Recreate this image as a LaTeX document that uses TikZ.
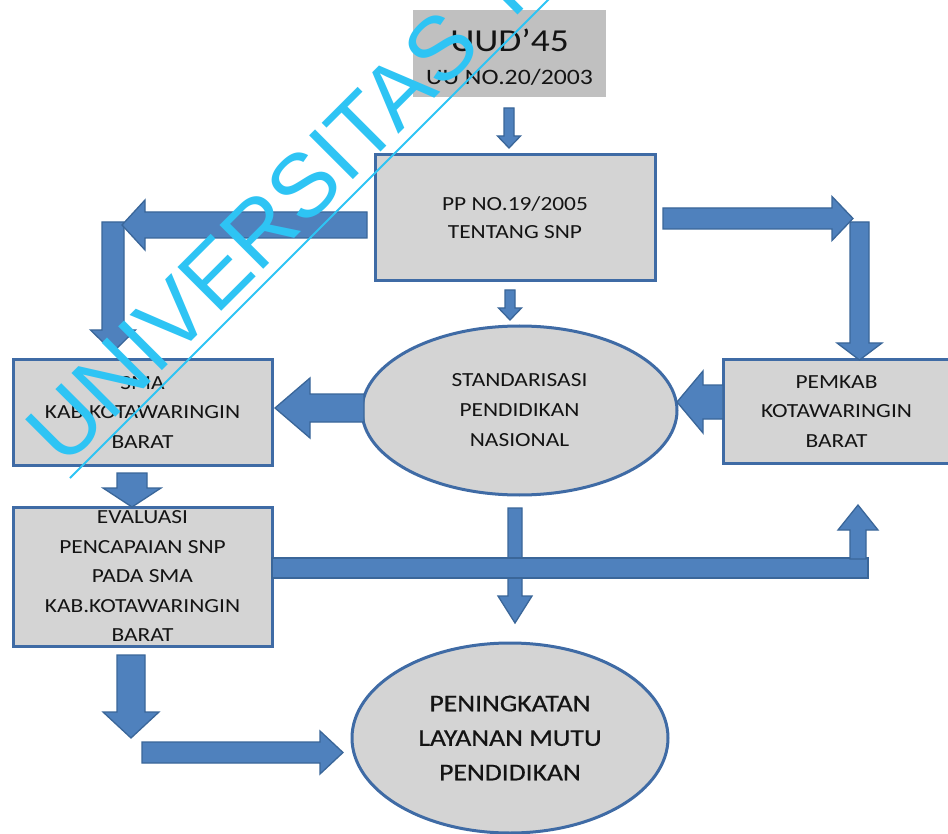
\documentclass[tikz,border=0pt]{standalone}
\usepackage{fontspec}
\setmainfont{Carlito}[FakeStretch=1.17]
\newfontfamily\wmfont{Liberation Sans}
\newfontfamily\boldishfont{Carlito}[FakeStretch=1.15,FakeBold=0.6]
\usetikzlibrary{calc,shapes.geometric}
\definecolor{abl}{HTML}{4F81BD}
\definecolor{abd}{HTML}{3A6699}
\definecolor{bxf}{HTML}{D4D4D4}
\definecolor{bxd}{HTML}{3F6BA5}
\definecolor{uudf}{HTML}{C0C0C0}
\definecolor{wmc}{HTML}{2EC4F4}
\definecolor{txt}{HTML}{141414}
\newcommand\blockarrow[5]{%
  \coordinate (ba-h) at ($(#2)!#5!(#1)$);
  \path[barrow] ($(#1)!#3!90:(#2)$) -- ($(ba-h)!#3!90:(#2)$) -- ($(ba-h)!#4!90:(#2)$) -- (#2) -- ($(ba-h)!#4!-90:(#2)$) -- ($(ba-h)!#3!-90:(#2)$) -- ($(#1)!#3!-90:(#2)$) -- cycle;}
\tikzset{
  barrow/.style={fill=abl, draw=abd, line width=1.3pt, line join=miter},
  bluebox/.style={rectangle, draw=bxd, line width=3pt, fill=bxf, inner sep=0pt, text=txt, align=center},
  blueell/.style={ellipse, draw=bxd, line width=3pt, fill=bxf, inner sep=0pt, text=txt, align=center},
  wmtext/.style={text=wmc, inner sep=0pt, font=\wmfont\fontsize{90}{90}\selectfont}
}
\begin{document}
\begin{tikzpicture}[x=1pt,y=-1pt]
\useasboundingbox (0,0) rectangle (948,834);
\fill[white] (0,0) rectangle (948,834);
\clip (0,0) rectangle (948,834);

% boxes
\node[rectangle, fill=uudf, minimum width=193pt, minimum height=87pt, inner sep=0pt] (uud) at (509.5,53.5) {};
\node[text=txt, font=\fontsize{32}{36}\selectfont, inner sep=0pt] (uudt1) at (509.5,40) {UUD’45};
\node[text=txt, font=\fontsize{22}{26}\selectfont, inner sep=0pt] (uudt2) at (509.5,77) {UU NO.20/2003};

\node[bluebox, minimum width=280pt, minimum height=126pt, font=\fontsize{20}{28}\selectfont] (pp) at (515,218) {PP NO.19/2005\\TENTANG SNP};
\node[bluebox, minimum width=259pt, minimum height=105pt, font=\fontsize{20}{29.5}\selectfont] (sma) at (142.5,412.5) {SMA\\KAB.KOTAWARINGIN\\BARAT};
\node[bluebox, minimum width=227pt, minimum height=103pt, font=\fontsize{20}{29.5}\selectfont] (pemkab) at (836.5,411.5) {PEMKAB\\KOTAWARINGIN\\BARAT};
\node[bluebox, minimum width=259pt, minimum height=139pt, font=\fontsize{20}{29.5}\selectfont] (eval) at (142.5,576.5) {EVALUASI\\PENCAPAIAN SNP\\PADA SMA\\KAB.KOTAWARINGIN\\BARAT};
\node[blueell, minimum width=315pt, minimum height=169pt, font=\fontsize{20}{30}\selectfont] (snp) at (519.5,410.5) {STANDARISASI\\PENDIDIKAN\\NASIONAL};
\node[blueell, minimum width=316pt, minimum height=190pt, font=\boldishfont\fontsize{24}{34.5}\selectfont] (mutu) at (510,738) {PENINGKATAN\\LAYANAN MUTU\\PENDIDIKAN};

% arrows
\blockarrow{509,108}{509,148}{5pt}{11.5pt}{12pt}
\blockarrow{510,290}{510,320}{5pt}{11.5pt}{12pt}
\blockarrow{113,222}{113,352}{11pt}{22.5pt}{22pt}
\blockarrow{367,225}{122,225}{13pt}{25pt}{23pt}
\blockarrow{859.5,222}{859.5,360}{9.5pt}{22.5pt}{17pt}
\blockarrow{663,218.5}{853,218.5}{10.5pt}{22pt}{21pt}
\blockarrow{364,408}{275,408}{14pt}{30pt}{35pt}
\blockarrow{723,402}{677,402}{17pt}{31pt}{26pt}
\blockarrow{132,473}{132,507}{15pt}{29pt}{19pt}
\blockarrow{515,508}{515,623}{7pt}{17pt}{27pt}
\path[barrow] (272,558) rectangle (868,578);
\blockarrow{858,559}{858,505}{8pt}{20pt}{25pt}
\blockarrow{131,655}{131,738}{14pt}{28pt}{26pt}
\blockarrow{142,752.5}{343,752.5}{10.5pt}{21.5pt}{23pt}

% watermark
\node[wmtext, rotate=45, anchor=base west] (wm) at (64,469) {UNIVERSITAS T};
\coordinate (wml1) at (70,478);
\coordinate (wml2) at (560,-12);
\draw[wmc, line width=2pt] (wml1) -- (wml2);
\end{tikzpicture}
\end{document}
